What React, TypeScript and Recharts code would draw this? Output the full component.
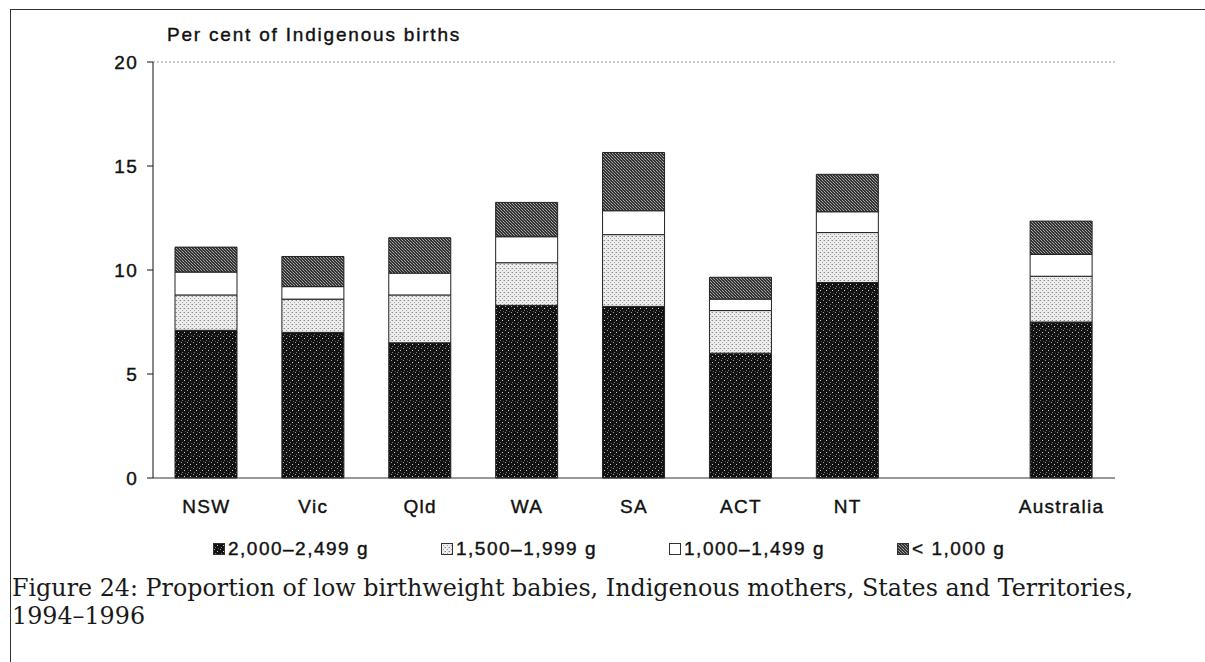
import { BarChart, Bar, XAxis, YAxis, ReferenceLine } from 'recharts';

// Per cent of Indigenous births, stacked by birthweight band
const categories = ['NSW', 'Vic', 'Qld', 'WA', 'SA', 'ACT', 'NT', '', 'Australia'];
const w2000to2499 = [7.1, 7.0, 6.5, 8.3, 8.25, 6.0, 9.4, null, 7.5];
const w1500to1999 = [1.7, 1.6, 2.3, 2.05, 3.45, 2.05, 2.4, null, 2.2];
const w1000to1499 = [1.1, 0.6, 1.05, 1.25, 1.15, 0.55, 1.0, null, 1.05];
const wUnder1000 = [1.2, 1.45, 1.7, 1.65, 2.8, 1.05, 1.8, null, 1.6];
const seriesNames = ['2,000–2,499 g', '1,500–1,999 g', '1,000–1,499 g', '< 1,000 g'];
const yTicks = [0, 5, 10, 15, 20];

const series = [
  { key: 'w2000', name: seriesNames[0], fill: 'url(#patDark)' },
  { key: 'w1500', name: seriesNames[1], fill: 'url(#patLight)' },
  { key: 'w1000', name: seriesNames[2], fill: '#ffffff' },
  { key: 'w0', name: seriesNames[3], fill: 'url(#patMid)' },
];

const data = categories.map((cat, i) => ({
  cat,
  w2000: w2000to2499[i],
  w1500: w1500to1999[i],
  w1000: w1000to1499[i],
  w0: wUnder1000[i],
}));

const sans = '"Liberation Sans", Arial, sans-serif';

function Patterns() {
  return (
    <defs>
      <pattern id="patDark" width="6" height="6" patternUnits="userSpaceOnUse">
        <rect width="6" height="6" fill="#121212" />
        <rect x="1" y="0" width="1" height="1" fill="#9a9a9a" />
        <rect x="4" y="2" width="1" height="1" fill="#cfcfcf" />
        <rect x="2" y="4" width="1" height="1" fill="#7a7a7a" />
        <rect x="5" y="5" width="1" height="1" fill="#555" />
      </pattern>
      <pattern id="patLight" width="4" height="4" patternUnits="userSpaceOnUse">
        <rect width="4" height="4" fill="#ececec" />
        <rect x="0" y="0" width="1" height="1" fill="#8a8a8a" />
        <rect x="2" y="2" width="1" height="1" fill="#a5a5a5" />
        <rect x="3" y="0" width="1" height="1" fill="#c4c4c4" />
      </pattern>
      <pattern id="patMid" width="3" height="3" patternUnits="userSpaceOnUse">
        <rect width="3" height="3" fill="#333" />
        <rect x="0" y="0" width="1" height="1" fill="#a8a8a8" />
        <rect x="1" y="1" width="1" height="1" fill="#858585" />
        <rect x="2" y="2" width="1" height="1" fill="#a8a8a8" />
      </pattern>
    </defs>
  );
}

export default function App() {
  return (
    <div
      style={{
        position: 'absolute',
        top: 0,
        left: 0,
        width: 1205,
        height: 662,
        overflow: 'hidden',
        background: '#fff',
        fontFamily: sans,
        color: '#111',
      }}
    >
      {/* page frame */}
      <div style={{ position: 'absolute', left: 10, top: 9, width: 1200, height: 660, borderTop: '1.5px solid #333', borderLeft: '1.5px solid #333' }} />

      <div style={{ position: 'absolute', left: 167, top: 24, fontSize: 19, letterSpacing: 1.8, WebkitTextStroke: '0.4px #111' }}>
        Per cent of Indigenous births
      </div>

      <div style={{ position: 'absolute', left: 0, top: 0, letterSpacing: 1.3 }}>
        <BarChart width={1205} height={520} data={data} margin={{ top: 62, right: 90, left: 103, bottom: 2 }} barSize={62}>
          <Patterns />
          <ReferenceLine y={20} stroke="#999" strokeDasharray="2 2" />
          <XAxis
            dataKey="cat"
            interval={0}
            height={40}
            tickLine={false}
            tickMargin={16}
            axisLine={{ stroke: '#333' }}
            tick={{ fill: '#111', fontSize: 19, stroke: '#111', strokeWidth: 0.4 }}
          />
          <YAxis
            domain={[0, 20]}
            ticks={yTicks}
            width={50}
            tickSize={6}
            tickMargin={9}
            axisLine={{ stroke: '#111' }}
            tickLine={{ stroke: '#111' }}
            tick={{ fill: '#111', fontSize: 19, stroke: '#111', strokeWidth: 0.4 }}
          />
          <YAxis
            yAxisId="right"
            orientation="right"
            width={0}
            tick={false}
            tickLine={false}
            axisLine={{ stroke: '#999', strokeDasharray: '2 2' }}
          />
          {series.map((s) => (
            <Bar
              key={s.key}
              dataKey={s.key}
              name={s.name}
              stackId="a"
              fill={s.fill}
              stroke="#222"
              strokeWidth={1}
              isAnimationActive={false}
            />
          ))}
        </BarChart>
      </div>

      {/* legend */}
      <div
        style={{
          position: 'absolute',
          left: 213,
          top: 538,
          display: 'flex',
          gap: 72,
          fontSize: 19,
          letterSpacing: 1.5,
          whiteSpace: 'nowrap',
          WebkitTextStroke: '0.4px #111',
        }}
      >
        {series.map((s) => (
          <div key={s.key} style={{ display: 'flex', alignItems: 'center', gap: 3 }}>
            <svg width={12} height={12}>
              <rect x={0.5} y={0.5} width={11} height={11} fill={s.fill} stroke="#333" strokeWidth={1} />
            </svg>
            <span>{s.name}</span>
          </div>
        ))}
      </div>

      {/* caption */}
      <div
        style={{
          position: 'absolute',
          left: 12,
          top: 574,
          fontFamily: '"DejaVu Serif", serif',
          fontSize: 23.8,
          lineHeight: '28px',
          color: '#1a1a1a',
          whiteSpace: 'nowrap',
        }}
      >
        Figure 24: Proportion of low birthweight babies, Indigenous mothers, States and Territories,
        <br />
        1994–1996
      </div>
    </div>
  );
}
